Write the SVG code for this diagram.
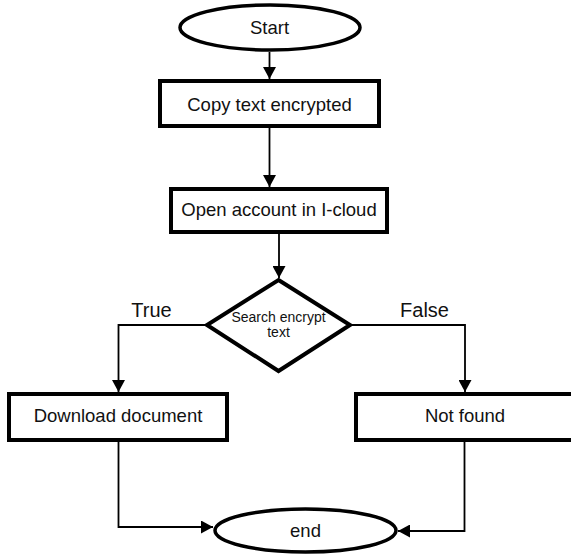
<svg xmlns="http://www.w3.org/2000/svg" width="571" height="555" viewBox="0 0 571 555">
<style>
.shape{fill:#fff;stroke:#000;stroke-width:4}
.term{fill:#fff;stroke:#000;stroke-width:3.5}
.lbl{font-family:"Liberation Sans",Arial,sans-serif;font-size:18.5px;fill:#111;text-anchor:middle}
.small{font-family:"Liberation Sans",Arial,sans-serif;font-size:14px;fill:#111;text-anchor:middle}
.cond{font-family:"Liberation Sans",Arial,sans-serif;font-size:20px;fill:#111;text-anchor:middle}
.conn{fill:none;stroke:#000;stroke-width:1.8}
</style>
<defs>
<marker id="arr" markerUnits="userSpaceOnUse" markerWidth="13" markerHeight="13" viewBox="0 0 12 13" refX="12" refY="6.5" orient="auto">
<path d="M0,0 L12,6.5 L0,13 Z" fill="#000"/>
</marker>
</defs>
<rect width="571" height="555" fill="#fff"/>
<g id="connectors">
<path class="conn" d="M269.5,52 V79" marker-end="url(#arr)"/>
<path class="conn" d="M269.5,128 V187" marker-end="url(#arr)"/>
<path class="conn" d="M279,234 V278" marker-end="url(#arr)"/>
<path class="conn" d="M206,325 H118.5 V392" marker-end="url(#arr)"/>
<path class="conn" d="M351,325 H465 V392" marker-end="url(#arr)"/>
<path class="conn" d="M118.5,442 V527 H213" marker-end="url(#arr)"/>
<path class="conn" d="M464.5,442 V531 H398" marker-end="url(#arr)"/>
<text class="cond" x="151.5" y="317">True</text>
<text class="cond" x="424.5" y="317">False</text>
</g>
<g id="start">
<ellipse class="term" cx="270" cy="27.5" rx="90" ry="22.5"/>
<text class="lbl" x="269.5" y="33.5">Start</text>
</g>
<g id="copy">
<rect class="shape" x="160" y="81" width="219" height="45"/>
<text class="lbl" x="269.5" y="111">Copy text encrypted</text>
</g>
<g id="open">
<rect class="shape" x="171" y="189" width="216" height="43"/>
<text class="lbl" x="279" y="216">Open account in I-cloud</text>
</g>
<g id="search">
<polygon class="shape" points="278.5,280 350,325 278.5,371 207,325"/>
<text class="small" x="278.5" y="321.5">Search encrypt</text>
<text class="small" x="278.5" y="336.5">text</text>
</g>
<g id="download">
<rect class="shape" x="9" y="394" width="218" height="46"/>
<text class="lbl" x="118" y="421.5">Download document</text>
</g>
<g id="notfound">
<rect class="shape" x="356" y="394" width="220" height="46"/>
<text class="lbl" x="465" y="421.5">Not found</text>
</g>
<g id="end">
<ellipse class="term" cx="305.5" cy="530.5" rx="90.5" ry="21.5"/>
<text class="lbl" x="305.5" y="537">end</text>
</g>
</svg>
